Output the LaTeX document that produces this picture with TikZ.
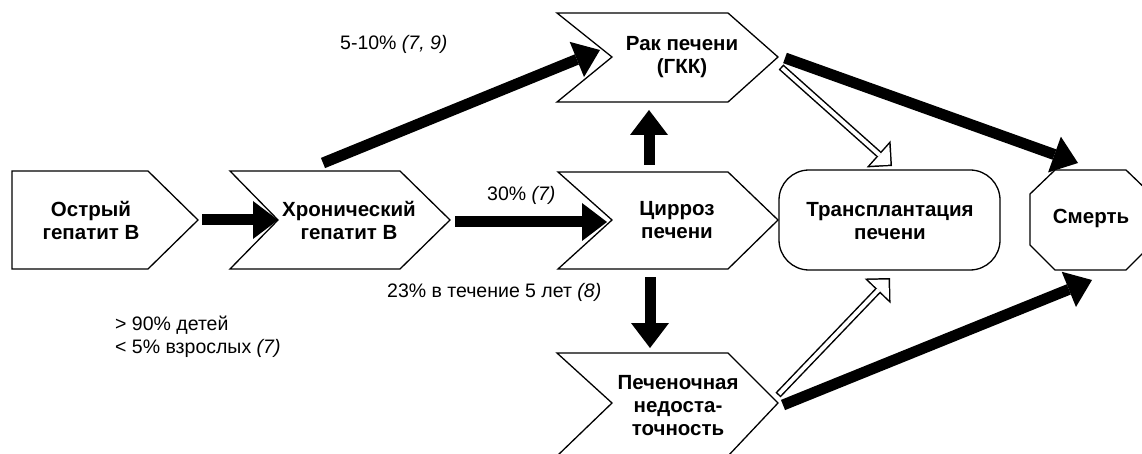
\documentclass[tikz,border=0pt]{standalone}
\usepackage{fontspec}
\setmainfont{Liberation Sans}
\usetikzlibrary{arrows.meta,calc}
\newcommand{\hollowarr}[2]{%
  \draw[line width=7pt, -{Triangle[length=18pt,width=36pt,line width=0pt]}] (#1) -- (#2);
  \draw[white, line width=4pt, shorten <=1.5pt, -{Triangle[length=14.4pt,width=28.8pt,line width=0pt]}] (#1) -- ($(#2)!2.1pt!(#1)$);
}
\begin{document}
\begin{tikzpicture}[x=1pt,y=-1pt,
  box/.style={draw=black, line width=1.3pt, fill=white, line join=miter},
  txt/.style={font=\fontsize{20.5}{23}\selectfont\bfseries, align=center, inner sep=0pt},
  lab/.style={font=\fontsize{19.5}{23}\selectfont, anchor=west, inner sep=0pt},
  blk/.style={line width=11pt, -{Triangle[length=25pt,width=38pt,line width=0pt]}},
]
\useasboundingbox (0,0) rectangle (1142,454);
\fill[white] (0,0) rectangle (1142,454);

% shapes
\draw[box] (12,171) -- (148,171) -- (198,220) -- (148,269) -- (12,269) -- cycle;
\draw[box] (230,171) -- (400,171) -- (450,220) -- (400,269) -- (230,269) -- (278,220) -- cycle;
\draw[box] (558,172) -- (728,172) -- (778,220) -- (728,269) -- (558,269) -- (612,220) -- cycle;
\draw[box] (557,13) -- (728,13) -- (778,57) -- (728,102) -- (557,102) -- (612,57) -- cycle;
\draw[box] (557,353) -- (728,353) -- (778,403) -- (728,456) -- (557,456) -- (612,403) -- cycle;
\draw[box, rounded corners=30pt] (779,170) rectangle (1000,270);
\draw[box] (1055,170) -- (1126,170) -- (1151,194) -- (1151,245) -- (1126,270) -- (1055,270) -- (1030,245) -- (1030,194) -- cycle;

% anchors
\coordinate (b1tip) at (198,220);
\coordinate (b2notch) at (278,220);
\coordinate (b2tip) at (450,222);
\coordinate (b3notch) at (612,222);
\coordinate (b3top) at (649,172);
\coordinate (b3bot) at (650,269);
\coordinate (b4bot) at (649,102);
\coordinate (b5top) at (650,353);
\coordinate (a24s) at (323,163);
\coordinate (a24e) at (600,50);
\coordinate (a47s) at (785,58);
\coordinate (a47e) at (1078,163);
\coordinate (a57s) at (783,405);
\coordinate (a57e) at (1092,280);
\coordinate (h46s) at (781,67);
\coordinate (h46e) at (892,166);
\coordinate (h56s) at (778,395);
\coordinate (h56e) at (890,278);

% texts
\node[txt] (acute) at (91,220) {Острый\\гепатит В};
\node[txt] (chronic) at (349,220) {Хронический\\гепатит В};
\node[txt] (cirr) at (677,220) {Цирроз\\печени};
\node[txt] (cancer) at (682,57) {Рак печени\\(ГКК)};
\node[txt] (fail) at (678,406) {Печеночная\\недоста-\\точность};
\node[txt] (transp) at (890,221) {Трансплантация\\печени};
\node[txt] (death) at (1091,218) {Смерть};

\node[lab] (l510) at (340,44) {5-10\% \textit{(7, 9)}};
\node[lab] (l30) at (487,195) {30\% \textit{(7)}};
\node[lab] (l23) at (387,292) {23\% в течение 5 лет \textit{(8)}};
\node[lab] (l90) at (115,325) {> 90\% детей};
\node[lab] (l5) at (115,348) {< 5\% взрослых \textit{(7)}};

% connectors
\draw[blk, shorten <=4pt] (b1tip) -- (b2notch);
\draw[blk, shorten <=5pt, shorten >=5pt] (b2tip) -- (b3notch);
\draw[blk] (a24s) -- (a24e);
\draw[blk, shorten <=7pt, shorten >=8pt] (b3top) -- (b4bot);
\draw[blk, shorten <=8pt, shorten >=5pt] (b3bot) -- (b5top);
\draw[blk] (a47s) -- (a47e);
\draw[blk] (a57s) -- (a57e);
\hollowarr{h46s}{h46e}
\hollowarr{h56s}{h56e}
\end{tikzpicture}
\end{document}
